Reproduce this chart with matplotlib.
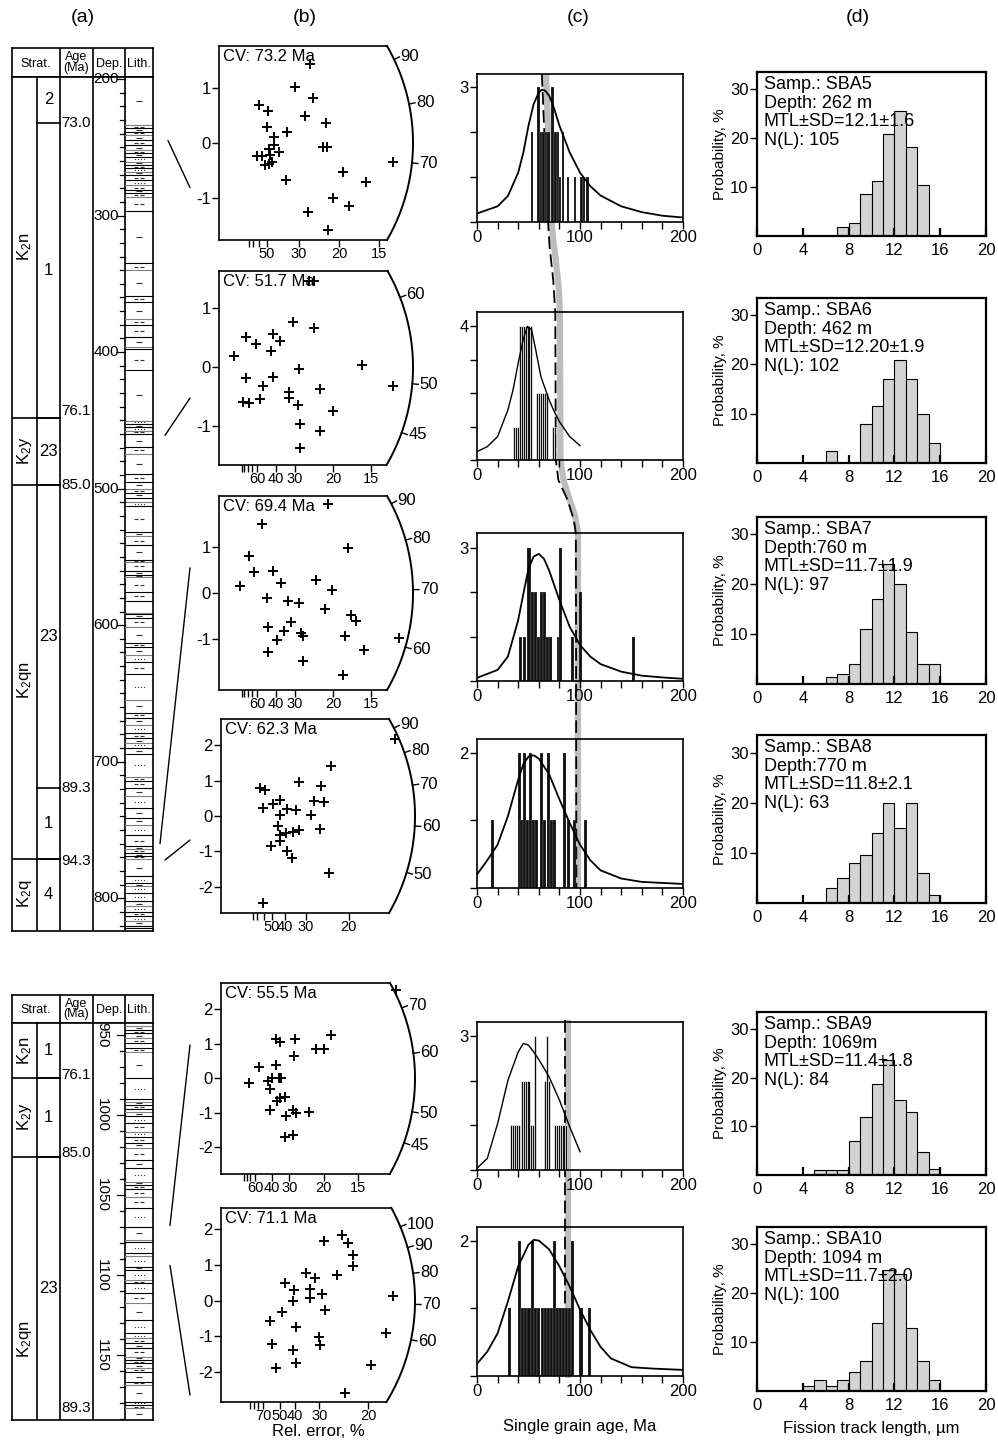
import numpy as np
import matplotlib

matplotlib.use("Agg")
import matplotlib.pyplot as plt  # noqa: E402
from matplotlib.patches import ConnectionPatch  # noqa: E402

plt.rcParams["font.family"] = ["Liberation Sans", "DejaVu Sans"]
plt.rcParams["mathtext.fontset"] = "custom"
plt.rcParams["mathtext.rm"] = "Liberation Sans"
plt.rcParams["mathtext.it"] = "Liberation Sans:italic"
plt.rcParams["axes.linewidth"] = 1.2

W, H = 998, 1440
FS_TICK = 11
FS_TXT = 12

# ---------------- (a) stratigraphic columns ----------------
top_units = [("K$_2$n", 198.5, 448, 323), ("K$_2$y", 448, 497, 472),
             ("K$_2$qn", 497, 771, 640), ("K$_2$q", 771, 824, 797)]
top_members = [("2", 198.5, 232), ("1", 232, 448), ("23", 448, 497),
               ("23", 497, 719), ("1", 719, 771), ("4", 771, 824)]
top_ages = [("73.0", 232), ("76.1", 443), ("85.0", 497), ("89.3", 719), ("94.3", 773)]
top_beds = [198.5, 233.7, 236.1, 238.6, 241, 244.7, 248.4, 252, 254.5, 256.9, 260.6, 263,
            265.4, 267.9, 270.3, 274, 277.7, 281.3, 283.3, 286.2, 296.5, 335, 340, 359,
            363.1, 376, 380.2, 388.8, 396.1, 398, 413.2, 450.3, 452.7, 455.2, 457.6, 460.1,
            469.4, 474.7, 489, 495, 500, 503, 507, 510, 513, 532, 535, 541, 552, 554, 560,
            563, 565, 576, 582, 591, 592, 595, 601, 613, 616, 622, 627, 636, 655, 664, 668,
            673, 679, 683, 686, 690, 694, 711, 714, 719, 725, 734, 741, 746, 754, 762, 764,
            767, 769, 771, 784, 789, 791, 796, 802, 806, 810, 813, 817, 820, 822, 824]
top_codes = ("mdmdmdmdmsmdsmdsdmddmdmdmddmndmsmsdmdmdmdmnsdmdmddmmddndmdmdmsdsmdmsdmsmsddmsmmsd"
             "mdmdmsmssmsdsmn")

bot_units = [("K$_2$n", 942.5, 977, 960), ("K$_2$y", 977, 1026, 1001),
             ("K$_2$qn", 1026, 1190.6, 1140)]
bot_members = [("1", 942.5, 977), ("1", 977, 1026), ("23", 1026, 1190.6)]
bot_ages = [("76.1", 975), ("85.0", 1024), ("89.3", 1183)]
bot_beds = [942.5, 944.4, 946.9, 948.9, 952.1, 955.2, 958.3, 960.4, 977.1, 990.2, 991.7,
            993.75, 996.5, 997.9, 1000.6, 1005.2, 1010.4, 1013.5, 1017.3, 1020.8, 1028.1,
            1033.3, 1041.7, 1043.75, 1046.5, 1051, 1058.3, 1069.8, 1078.1, 1079.2, 1086.5,
            1088.1, 1094.8, 1096.9, 1103.1, 1105.2, 1111.5, 1117.7, 1128.1, 1136.5, 1139.6,
            1142.7, 1145.8, 1151, 1153.1, 1155.2, 1158.3, 1160.4, 1166.7, 1168.75, 1179.2,
            1181.25, 1183.3, 1190.6]
bot_codes = "dmdmdndmsdmdnmsdsdmdmsmdddsmnsmsmsdsdmssdmdmdmdmdmsdm"

# ---------------- (b) radial plots ----------------
rad_cv = [73.2, 51.7, 69.4, 62.3, 55.5, 71.1]
rad_x = [
    [3.79, 3.17, 3.90, 1.68, 2.06, 3.58, 4.46, 2.01, 2.82, 2.31, 2.31, 2.10, 2.51, 4.35, 4.49,
     1.57, 1.78, 2.13, 1.92, 2.19, 2.10, 7.24, 5.18, 2.79, 6.11, 4.76, 5.43, 3.72, 4.56],
    [3.95, 4.17, 3.25, 2.37, 1.18, 1.62, 2.68, 2.28, 4.17, 0.66, 2.37, 1.18, 1.93, 3.51, 6.27,
     7.63, 4.43, 3.07, 1.32, 1.05, 1.80, 3.07, 3.46, 5.00, 3.55, 4.43, 3.55],
    [4.78, 1.89, 5.66, 1.32, 0.92, 2.37, 2.72, 3.03, 3.51, 2.11, 4.25, 4.96, 4.65, 5.79, 6.01,
     2.15, 2.85, 3.16, 3.60, 2.54, 5.53, 3.68, 2.15, 3.68, 5.44, 6.36, 7.89, 1.54],
    [6.83, 4.31, 3.04, 1.51, 1.74, 3.92, 2.32, 2.04, 3.66, 4.02, 1.64, 2.58, 2.95, 2.30, 3.52,
     2.22, 2.30, 2.56, 2.82, 3.04, 3.89, 2.30, 1.96, 2.58, 2.78, 4.24, 1.64],
    [8.54, 2.69, 2.89, 3.62, 5.36, 4.64, 5.00, 3.54, 1.83, 2.69, 1.35, 2.27, 2.48, 2.81, 2.92,
     2.37, 2.73, 2.89, 3.13, 2.37, 3.51, 3.67, 4.27, 3.18, 3.13, 3.51],
    [4.10, 4.30, 3.51, 4.49, 4.47, 3.95, 2.89, 3.20, 2.18, 2.46, 3.02, 3.02, 3.42, 2.44, 2.07,
     3.53, 5.85, 1.65, 2.55, 3.34, 3.36, 5.60, 1.73, 2.44, 2.55, 1.87, 5.08, 4.21],
]
rad_y = [
    [1.42, 1.01, 0.82, 0.68, 0.57, 0.48, 0.36, 0.29, 0.19, 0.11, -0.04, -0.10, -0.16, -0.07,
     -0.07, -0.23, -0.23, -0.22, -0.39, -0.34, -0.37, -0.35, -0.53, -0.66, -0.70, -0.99, -1.14,
     -1.24, -1.57],
    [1.46, 1.46, 0.76, 0.56, 0.51, 0.39, 0.44, 0.27, 0.66, 0.19, -0.17, -0.19, -0.32, -0.03,
     0.03, -0.32, -0.37, -0.42, -0.61, -0.59, -0.54, -0.53, -0.64, -0.75, -0.97, -1.08, -1.37],
    [1.96, 1.52, 0.99, 0.81, 0.15, 0.48, 0.22, -0.18, -0.22, -0.11, 0.29, 0.07, -0.35, -0.48,
     -0.62, -0.75, -0.84, -0.64, -0.88, -1.03, -0.95, -0.95, -1.30, -1.49, -1.80, -1.25, -0.99,
     0.46],
    [2.19, 1.41, 0.96, 0.79, 0.75, 0.86, 0.46, 0.35, 0.42, 0.39, 0.23, 0.20, 0.18, 0.04, 0.04,
     -0.27, -0.53, -0.48, -0.44, -0.41, -0.37, -0.72, -0.84, -1.00, -1.19, -1.62, -2.47],
    [2.56, 1.14, 1.06, 1.14, 1.26, 0.84, 0.84, 0.65, 0.32, 0.39, -0.14, -0.07, 0.00, 0.00, 0.00,
     -0.32, -0.65, -0.58, -0.55, -0.92, -0.92, -1.00, -0.97, -1.09, -1.71, -1.64],
    [1.85, 1.61, 1.68, 1.28, 0.97, 0.72, 0.79, 0.63, 0.49, 0.30, 0.32, 0.09, 0.18, 0.00, -0.31,
     -0.26, 0.13, -0.56, -0.73, -1.03, -1.25, -0.90, -1.20, -1.37, -1.74, -1.90, -1.81, -2.59],
]
rad_err_major = [[50, 30, 20, 15], [60, 40, 30, 20, 15], [60, 40, 30, 20, 15],
                 [50, 40, 30, 20], [60, 40, 30, 20, 15], [70, 50, 40, 30, 20]]
rad_err_minor = [[80, 70, 60], [100, 90, 80, 70], [100, 90, 80, 70],
                 [80, 70, 60], [90, 80, 70], [100, 90, 80]]
rad_arc_ages = [[70, 80, 90], [45, 50, 60], [60, 70, 80, 90],
                [50, 60, 70, 80, 90], [45, 50, 60, 70], [60, 70, 80, 90, 100]]
rad_yticks = [[-1, 0, 1], [-1, 0, 1], [-1, 0, 1], [-2, -1, 0, 1, 2], [-2, -1, 0, 1, 2],
              [-2, -1, 0, 1, 2]]
rad_xmax = [8.08, 8.5, 8.5, 7.6, 9.46, 6.58]
rad_ylim = [(-1.75, 1.75), (-1.66, 1.63), (-2.13, 2.13), (-2.75, 2.75), (-2.78, 2.77),
            (-2.84, 2.6)]

# ---------------- (c) single grain age histograms ----------------
age_bar_x = [
    [53.5, 59.5, 62, 64.5, 67, 69.5, 73.5, 76, 78.5, 80.5, 83.5, 88.5, 95, 101.5, 104, 107],
    [36, 38, 40, 42, 44, 46, 48, 50, 52, 58, 60, 62, 64, 66, 68, 74, 76],
    [42.5, 46, 50.5, 53.5, 56.5, 59.5, 62.5, 65.5, 68.5, 71.5, 79, 81, 92.5, 100.5, 151.5],
    [15, 41, 43.5, 46.5, 49, 51.5, 54.5, 57.5, 62.5, 65.5, 69, 72, 75, 85, 88.5, 94.5, 105.5],
    [33, 35, 37, 39, 41, 44, 46, 48, 50, 52, 54, 56, 66, 68, 70, 76, 78, 80, 82, 84, 86],
    [31.5, 41, 44.5, 47, 50.5, 53.5, 57, 60, 63.5, 66.5, 69.5, 72.5, 75, 78, 81, 84, 87,
     90, 93, 101, 109.5],
]
age_bar_n = [
    [2, 3, 2, 2, 2, 2, 3, 2, 2, 1, 2, 1, 1, 1, 1, 1],
    [1, 1, 1, 4, 4, 4, 4, 4, 4, 2, 2, 2, 2, 2, 2, 1, 1],
    [1, 1, 3, 2, 2, 1, 2, 2, 1, 1, 1, 3, 1, 2, 1],
    [1, 2, 1, 2, 1, 2, 1, 1, 2, 1, 2, 1, 1, 2, 1, 1, 1],
    [1, 1, 1, 1, 1, 2, 2, 2, 2, 1, 1, 3, 2, 3, 2, 1, 1, 1, 1, 1, 1],
    [1, 2, 1, 1, 1, 2, 1, 1, 1, 1, 1, 1, 2, 1, 1, 1, 1, 1, 2, 1, 1],
]
age_bar_w = [2.6, 2.0, 3.0, 3.0, 2.0, 3.0]
age_curve_x = [
    [0, 20, 30, 40, 45, 50, 55, 60, 63, 66, 70, 75, 80, 90, 100, 110, 120, 140, 160, 180, 200],
    [0, 10, 20, 30, 35, 40, 45, 49, 53, 57, 62, 70, 75, 80, 90, 100],
    [0, 20, 30, 40, 45, 50, 55, 60, 65, 70, 80, 90, 100, 110, 120, 140, 160, 180, 200],
    [0, 10, 20, 30, 40, 45, 50, 55, 60, 70, 80, 90, 100, 110, 120, 140, 160, 200],
    [0, 10, 20, 30, 40, 45, 50, 55, 60, 70, 80, 90, 100],
    [0, 10, 20, 30, 40, 50, 55, 60, 70, 80, 90, 100, 110, 120, 130, 150, 170, 200],
]
age_curve_y = [
    [0.19, 0.35, 0.58, 1.1, 1.55, 2.15, 2.63, 2.89, 2.95, 2.93, 2.82, 2.52, 2.15, 1.55, 1.1,
     0.8, 0.59, 0.35, 0.22, 0.14, 0.10],
    [0.25, 0.4, 0.7, 1.5, 2.1, 2.9, 3.63, 4.0, 3.9, 3.3, 2.5, 1.8, 1.45, 1.15, 0.7, 0.43],
    [0.07, 0.25, 0.55, 1.37, 1.96, 2.53, 2.8, 2.86, 2.75, 2.49, 1.82, 1.22, 0.81, 0.55, 0.38,
     0.21, 0.12, 0.08, 0.05],
    [0.2, 0.41, 0.64, 1.06, 1.6, 1.83, 1.94, 1.96, 1.91, 1.68, 1.31, 0.96, 0.64, 0.41, 0.26,
     0.14, 0.09, 0.06],
    [0.04, 0.26, 1.04, 2.01, 2.65, 2.84, 2.8, 2.65, 2.48, 2.09, 1.57, 0.97, 0.41],
    [0.18, 0.36, 0.63, 1.1, 1.62, 1.94, 2.01, 2.0, 1.87, 1.62, 1.32, 0.98, 0.68, 0.43, 0.26,
     0.13, 0.11, 0.09],
]
age_ymax = [3.3, 4.43, 3.33, 2.2, 3.32, 2.2]
age_top_tick = [3, 4, 3, 2, 3, 2]

# central-age trend lines drawn across the (c) panels: rows are pixel rows of the page
trend_top_rows = [74, 222, 240, 260, 290, 312, 460, 480, 500, 515, 533, 888]
trend_top_gray = [67, 72.5, 74, 76.5, 79.5, 80.5, 81, 84, 90, 95, 98, 98]
dash_top_rows = [74, 222, 247, 280, 312, 460, 480, 500, 520, 533, 888]
dash_top_age = [63, 69, 70.5, 74, 76, 76.5, 79, 88, 94, 96, 96.5]
trend_bot_rows = [1020, 1378]
trend_bot_gray = [88.5, 88.5]
dash_bot_age = [85, 85]

# ---------------- (d) track length histograms ----------------
samples = ["SBA5", "SBA6", "SBA7", "SBA8", "SBA9", "SBA10"]
depth_txt = ["Depth: 262 m", "Depth: 462 m", "Depth:760 m", "Depth:770 m", "Depth: 1069m",
             "Depth: 1094 m"]
mtl_txt = ["MTL\u00b1SD=12.1\u00b11.6", "MTL\u00b1SD=12.20\u00b11.9", "MTL\u00b1SD=11.7\u00b11.9",
           "MTL\u00b1SD=11.8\u00b12.1", "MTL\u00b1SD=11.4\u00b11.8", "MTL\u00b1SD=11.7\u00b12.0"]
n_tracks = [105, 102, 97, 63, 84, 100]
len_start = [7, 6, 6, 6, 5, 4]
len_prob = [
    [1.8, 2.7, 8.6, 11.3, 20.9, 25.6, 18.1, 10.4],
    [2.5, 0, 0, 8, 11.5, 17, 21, 17, 10, 4],
    [1.5, 2, 4, 11, 17, 24, 20, 10.5, 4, 4],
    [3, 5, 8, 9.5, 14, 20, 15, 20, 6, 1.5],
    [1.0, 1.0, 1.0, 6.9, 11.9, 18.8, 23.6, 15.4, 12.9, 4.8, 1.2],
    [1.0, 2.2, 1.0, 2.2, 3.9, 6.1, 13.9, 24.8, 23.9, 12.9, 6.1, 2.2],
]

# ---------------- connectors (a) -> (b): start x in table units, sample depth ----------
conn_start_x = [156, 153, 148, 153, 158, 158]
conn_depth = [245, 461, 760, 772, 1069, 1094]
conn_end_frac = [0.27, 0.345, 0.63, 0.376, 0.675, 0.036]

# ---------------- layout (pixel boxes) ----------------
R_ARC = 194
CONN_END_X = 190
rad_boxes = [(219, 46, 240), (219, 271, 465), (219, 496, 690), (221, 719, 913),
             (221, 983, 1174), (221, 1208, 1402)]
age_boxes = [(74, 222), (312, 460), (533, 681), (739, 888), (1022, 1170), (1227, 1376)]
len_boxes = [(72, 236), (298, 463), (517, 684), (735, 903), (1012, 1175), (1227, 1391)]

fig = plt.figure(figsize=(W / 100, H / 100), dpi=100)


def px_axes(left, top, right, bottom, **kw):
    return fig.add_axes([left / W, 1 - bottom / H, (right - left) / W, (bottom - top) / H], **kw)


def lith_symbol(ax, c, d):
    if c == "m":
        ax.plot([127], [d], marker="_", ms=5, mew=0.8, color="0.2")
    elif c == "d":
        ax.plot([124, 130], [d, d], ls="none", marker="_", ms=3, mew=0.8, color="0.2")
    elif c == "s":
        ax.plot([122.5, 125.5, 128.5, 131.5], [d] * 4, ls="none", marker="o", ms=0.9,
                mew=0, color="0.2")


def strat_column(top, hdr_bot, bottom, beds, codes, units, members, ages, depth_major,
                 rotate_labels):
    hx = px_axes(12, top, 153, hdr_bot)
    hx.set_xlim(0, 141)
    hx.set_ylim(0, 1)
    hx.set_xticks([])
    hx.set_yticks([])
    for xv in (48, 81, 113):
        hx.axvline(xv, color="k", lw=1.2)
    hx.text(24, 0.45, "Strat.", ha="center", va="center", fontsize=9)
    hx.text(64.5, 0.5, "Age\n(Ma)", ha="center", va="center", fontsize=9, linespacing=0.8)
    hx.text(97, 0.45, "Dep.", ha="center", va="center", fontsize=9)
    hx.text(127, 0.45, "Lith.", ha="center", va="center", fontsize=9)

    ax = px_axes(12, hdr_bot, 153, bottom)
    ax.set_xlim(0, 141)
    ax.set_ylim(beds[-1], beds[0])
    ax.set_xticks([])
    ax.set_yticks([])
    for xv in (25, 48, 81, 113):
        ax.axvline(xv, color="k", lw=1.2)
    for name, d0, d1, dl in units:
        if d1 < beds[-1]:
            ax.plot([0, 48], [d1, d1], color="k", lw=1.2)
        ax.text(12.5, dl, name, rotation=90, ha="center", va="center", fontsize=FS_TXT)
    for name, d0, d1 in members:
        if d1 < beds[-1]:
            ax.plot([25, 48], [d1, d1], color="k", lw=1.2)
        ax.text(36.5, (d0 + d1) / 2, name, ha="center", va="center", fontsize=FS_TXT)
    for lab, d in ages:
        ax.text(49, d, lab, ha="left", va="center", fontsize=FS_TICK)
    for i, d in enumerate(beds[1:-1]):
        ax.plot([113, 141], [d, d], color="k" if i % 3 else "0.5", lw=0.8)
    for d0, d1, c in zip(beds[:-1], beds[1:], codes):
        if d1 - d0 >= 2.0:
            lith_symbol(ax, c, (d0 + d1) / 2)
    d_first = np.ceil(beds[0] / 10) * 10
    for d in np.arange(d_first, beds[-1], 10):
        major = d in depth_major
        ax.plot([113 - (8 if major else 5), 113], [d, d], color="k", lw=0.9)
    for d in depth_major:
        if rotate_labels:
            ax.text(90, d, f"{d}", rotation=270, ha="center", va="center", fontsize=FS_TICK)
        else:
            ax.text(107, d, f"{d}", ha="right", va="center", fontsize=FS_TICK)
    return ax


ax_top = strat_column(48, 77, 931, top_beds, top_codes, top_units, top_members, top_ages,
                      [200, 300, 400, 500, 600, 700, 800], False)
ax_bot = strat_column(995, 1023, 1420, bot_beds, bot_codes, bot_units, bot_members, bot_ages,
                      [950, 1000, 1050, 1100, 1150], True)

# ---------------- radial plots ----------------
rad_axes = []
for i in range(6):
    left, top, bottom = rad_boxes[i]
    ax = px_axes(left, top, left + R_ARC, bottom)
    rad_axes.append(ax)
    ax.patch.set_alpha(0)
    xmax = rad_xmax[i]
    y0, y1 = rad_ylim[i]
    ax.set_xlim(0, xmax)
    ax.set_ylim(y0, y1)
    sx = R_ARC / xmax
    sy = (bottom - top) / (y1 - y0)
    th_top = np.arcsin(min(1, y1 * sy / R_ARC))
    th_bot = np.arcsin(max(-1, y0 * sy / R_ARC))
    th = np.linspace(th_bot, th_top, 120)
    ax.plot(R_ARC * np.cos(th) / sx, R_ARC * np.sin(th) / sy, color="k", lw=1.4, clip_on=False)
    ax.spines["right"].set_visible(False)
    ax.spines["top"].set_bounds(0, R_ARC * np.cos(th_top) / sx)
    ax.spines["bottom"].set_bounds(0, R_ARC * np.cos(th_bot) / sx)
    for t in rad_arc_ages[i]:
        phi = np.arctan(np.log(t / rad_cv[i]) * sy / sx)
        r = np.array([R_ARC, R_ARC + 6])
        ax.plot(r * np.cos(phi) / sx, r * np.sin(phi) / sy, color="k", lw=1.0, clip_on=False)
        ax.text((R_ARC + 7) * np.cos(phi) / sx, (R_ARC + 7) * np.sin(phi) / sy, f"{t}",
                ha="left", va="center", fontsize=FS_TXT)
    ax.set_yticks(rad_yticks[i])
    ax.set_yticklabels([f"{v}" for v in rad_yticks[i]])
    ax.set_xticks([100 / e for e in rad_err_major[i]])
    ax.set_xticklabels([f"{e}" for e in rad_err_major[i]])
    ax.set_xticks([100 / e for e in rad_err_minor[i]], minor=True)
    ax.tick_params(axis="both", which="both", direction="out", length=5, width=1.0,
                   labelsize=FS_TXT, pad=1)
    ax.tick_params(axis="x", pad=0, labelsize=10.5)
    ax.plot(rad_x[i], rad_y[i], "+", color="k", ms=7.5, mew=1.4, clip_on=False)
    ax.annotate(f"CV: {rad_cv[i]} Ma", xy=(0, 1), xycoords="axes fraction", xytext=(3, -2),
                textcoords="offset points", ha="left", va="top", fontsize=FS_TXT)
rad_axes[-1].set_xlabel("Rel. error, %", fontsize=FS_TXT, labelpad=1)

# ---------------- single grain age panels ----------------
overlay_top = px_axes(477, 74, 683, 888, zorder=0)
overlay_bot = px_axes(477, 1020, 683, 1378, zorder=0)
for ov, r0, r1 in ((overlay_top, 888, 74), (overlay_bot, 1378, 1020)):
    ov.set_xlim(0, 200)
    ov.set_ylim(r0, r1)
    ov.axis("off")
overlay_top.plot(trend_top_gray, trend_top_rows, color="#bdbdbd", lw=4.5, solid_capstyle="butt")
overlay_top.plot(dash_top_age, dash_top_rows, color="k", lw=1.3, dashes=(7, 3))
overlay_bot.plot(trend_bot_gray, trend_bot_rows, color="#bdbdbd", lw=4.5, solid_capstyle="butt")
overlay_bot.plot(dash_bot_age, trend_bot_rows, color="k", lw=1.3, dashes=(7, 3))

for i in range(6):
    top, bottom = age_boxes[i]
    ax = px_axes(477, top, 683, bottom, zorder=2)
    ax.patch.set_alpha(0)
    striped = i in (1, 4)
    ax.bar(age_bar_x[i], age_bar_n[i], width=age_bar_w[i], color="#111111", edgecolor="white",
           lw=0.45 if striped else 0.12)
    ax.plot(age_curve_x[i], age_curve_y[i], color="k", lw=1.0 if striped else 1.3)
    ax.set_xlim(0, 200)
    ax.set_ylim(0, age_ymax[i])
    ax.set_xticks([0, 100, 200])
    ax.set_xticks(np.arange(0, 201, 20), minor=True)
    ax.set_yticks(np.arange(0, age_top_tick[i] + 1))
    ax.set_yticklabels([""] * age_top_tick[i] + [f"{age_top_tick[i]}"])
    ax.tick_params(axis="both", which="both", direction="out", length=5, width=1.0,
                   labelsize=FS_TXT, pad=1)
    if i == 5:
        ax.set_xlabel("Single grain age, Ma", fontsize=FS_TXT, labelpad=14)

# ---------------- track length panels ----------------
for i in range(6):
    top, bottom = len_boxes[i]
    ax = px_axes(757, top, 986, bottom)
    for s in ax.spines.values():
        s.set_linewidth(1.6)
    x = len_start[i] + np.arange(len(len_prob[i])) + 0.5
    ax.bar(x, len_prob[i], width=1, color="#d3d3d3", edgecolor="k", lw=0.8)
    ax.set_xlim(0, 20)
    ax.set_ylim(0, 33.5)
    ax.set_xticks([0, 4, 8, 12, 16, 20])
    ax.set_yticks([10, 20, 30])
    ax.tick_params(axis="x", direction="in", length=6, width=1.6, labelsize=FS_TXT, pad=5)
    ax.tick_params(axis="y", direction="out", length=5, width=1.0, labelsize=FS_TXT, pad=1)
    ax.set_ylabel("Probability, %", fontsize=11, labelpad=2)
    txt = f"Samp.: {samples[i]}\n{depth_txt[i]}\n{mtl_txt[i]}\nN(L): {n_tracks[i]}"
    ax.text(0.03, 0.975, txt, transform=ax.transAxes, ha="left", va="top", fontsize=13,
            linespacing=1.12)
    if i == 5:
        ax.set_xlabel("Fission track length, \u00b5m", fontsize=FS_TXT, labelpad=6)

# ---------------- connectors between columns (a) and (b) ----------------
conn_tables = [ax_top, ax_top, ax_top, ax_top, ax_bot, ax_bot]
for x0, d, tab, fr, rax, box in zip(conn_start_x, conn_depth, conn_tables, conn_end_frac,
                                    rad_axes, rad_boxes):
    cp = ConnectionPatch(xyA=(x0, d), coordsA=tab.transData,
                         xyB=((CONN_END_X - box[0]) / R_ARC, fr), coordsB=rax.transAxes,
                         color="k", lw=1.0)
    fig.add_artist(cp)

for lab, xc in (("(a)", 83), ("(b)", 305), ("(c)", 578), ("(d)", 858)):
    fig.text(xc / W, 1 - 18 / H, lab, ha="center", va="center", fontsize=14)

fig.savefig("out.png", dpi=100)
